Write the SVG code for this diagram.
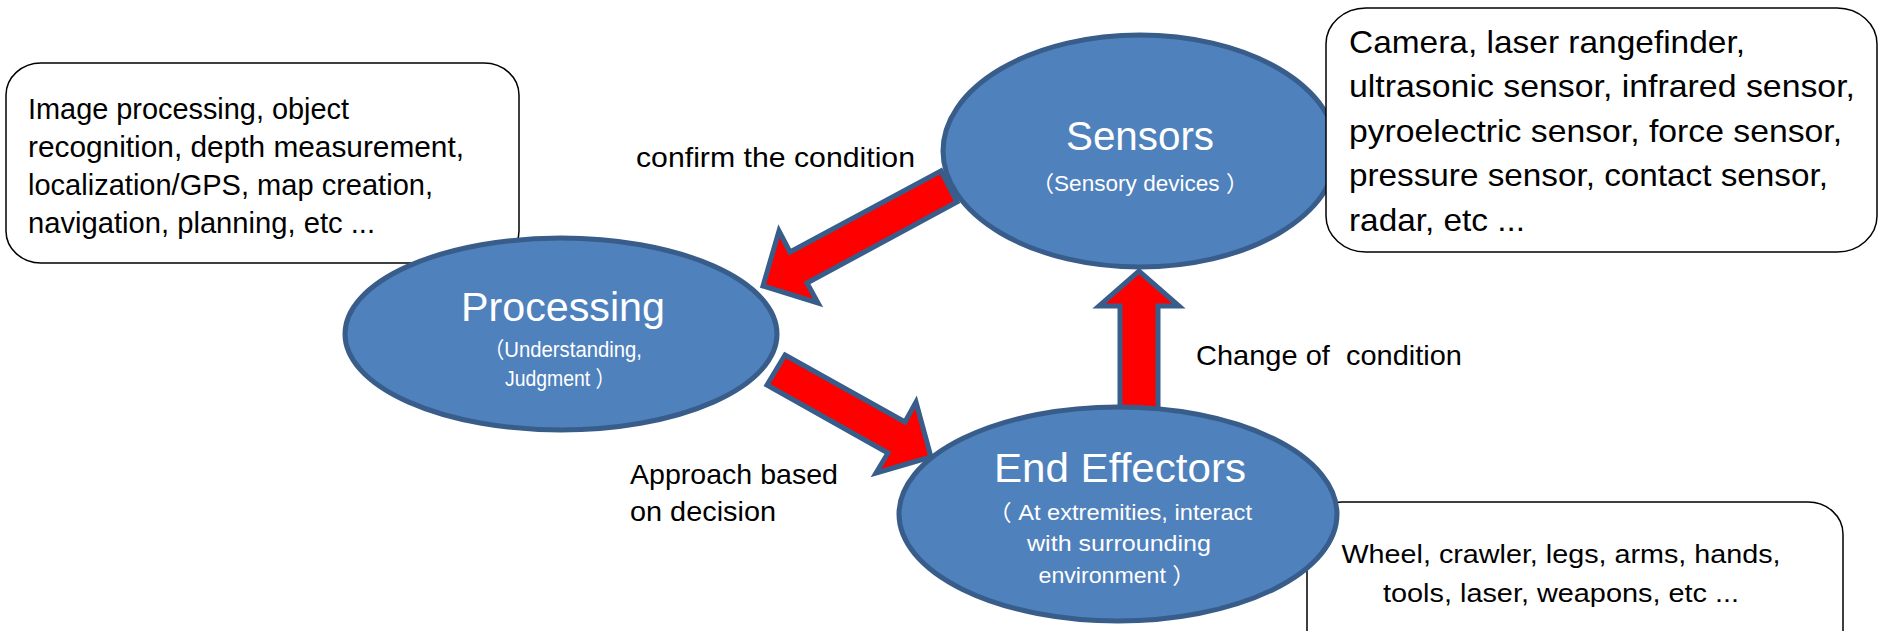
<svg xmlns="http://www.w3.org/2000/svg" width="1885" height="631" viewBox="0 0 1885 631">
<defs>
<style>
text{font-family:"Liberation Sans","Noto Sans CJK JP",sans-serif;}
.box{fill:#ffffff;stroke:#000000;stroke-width:1.5;}
.ell{fill:#4f81bd;stroke:#385d8a;stroke-width:5;}
.arr{fill:#ff0000;stroke:#385d8a;stroke-width:5;stroke-linejoin:miter;}
.bt{fill:#000000;font-size:29px;}
.rt{fill:#000000;font-size:32px;}
.lb{fill:#000000;font-size:28px;}
.title{fill:#ffffff;font-size:41px;text-anchor:middle;}
.sub{fill:#ffffff;font-size:22px;text-anchor:middle;}
.brt{fill:#000000;font-size:25px;text-anchor:middle;}
</style>
</defs>
<rect width="1885" height="631" fill="#ffffff"/>

<g id="connectors">
  <polygon class="arr" points="941,171 790,252 779,231 763,286 818,303 807,283 957,202"/>
  <polygon class="arr" points="785,355 905,422 916,402 931,457 876,473 888,453 767,385"/>
  <polygon class="arr" points="1120,412 1120,306 1099,306 1139,271 1179,306 1158,306 1158,412"/>
  <text class="lb" x="636" y="167" textLength="279" lengthAdjust="spacingAndGlyphs">confirm the condition</text>
  <text class="lb" x="1196" y="365" textLength="266" lengthAdjust="spacingAndGlyphs" xml:space="preserve">Change of  condition</text>
  <text class="lb" x="630" y="484" textLength="208" lengthAdjust="spacingAndGlyphs">Approach based</text>
  <text class="lb" x="630" y="521" textLength="146" lengthAdjust="spacingAndGlyphs">on decision</text>
</g>

<g id="processing-box">
  <rect class="box" x="6" y="63" width="513" height="200" rx="35" ry="32"/>
  <text class="bt" x="28" y="119" textLength="321" lengthAdjust="spacingAndGlyphs">Image processing, object</text>
  <text class="bt" x="28" y="157" textLength="436" lengthAdjust="spacingAndGlyphs">recognition, depth measurement,</text>
  <text class="bt" x="28" y="195" textLength="405" lengthAdjust="spacingAndGlyphs">localization/GPS, map creation,</text>
  <text class="bt" x="28" y="233" textLength="347" lengthAdjust="spacingAndGlyphs">navigation, planning, etc ...</text>
</g>

<g id="processing">
  <ellipse class="ell" cx="561" cy="334" rx="216" ry="96"/>
  <text class="title" x="563" y="321" textLength="204" lengthAdjust="spacingAndGlyphs">Processing</text>
  <text class="sub" x="563" y="357" textLength="158" lengthAdjust="spacingAndGlyphs">（Understanding,</text>
  <text class="sub" x="560" y="386" textLength="110" lengthAdjust="spacingAndGlyphs">Judgment ）</text>
</g>

<g id="effectors-box">
  <rect class="box" x="1307" y="502" width="536" height="190" rx="35" ry="32"/>
  <text class="brt" x="1561" y="563" textLength="439" lengthAdjust="spacingAndGlyphs">Wheel, crawler, legs, arms, hands,</text>
  <text class="brt" x="1561" y="602" textLength="356" lengthAdjust="spacingAndGlyphs">tools, laser, weapons, etc ...</text>
</g>

<g id="end-effectors">
  <ellipse class="ell" cx="1118" cy="514" rx="219" ry="107"/>
  <text class="title" x="1120" y="482" textLength="252" lengthAdjust="spacingAndGlyphs">End Effectors</text>
  <text class="sub" x="1120" y="520" textLength="264" lengthAdjust="spacingAndGlyphs">（ At extremities, interact</text>
  <text class="sub" x="1119" y="551" textLength="184" lengthAdjust="spacingAndGlyphs">with surrounding</text>
  <text class="sub" x="1117" y="583" textLength="157" lengthAdjust="spacingAndGlyphs">environment ）</text>
</g>

<g id="sensors">
  <ellipse class="ell" cx="1140" cy="151" rx="197" ry="116"/>
  <text class="title" x="1140" y="150" textLength="148" lengthAdjust="spacingAndGlyphs">Sensors</text>
  <text class="sub" x="1140" y="191" font-size="23" textLength="217" lengthAdjust="spacingAndGlyphs">（Sensory devices ）</text>
</g>

<g id="sensors-box">
  <rect class="box" x="1326" y="8" width="551" height="244" rx="40" ry="36"/>
  <text class="rt" x="1349" y="53" textLength="396" lengthAdjust="spacingAndGlyphs">Camera, laser rangefinder,</text>
  <text class="rt" x="1349" y="97" textLength="506" lengthAdjust="spacingAndGlyphs">ultrasonic sensor, infrared sensor,</text>
  <text class="rt" x="1349" y="142" textLength="493" lengthAdjust="spacingAndGlyphs">pyroelectric sensor, force sensor,</text>
  <text class="rt" x="1349" y="186" textLength="479" lengthAdjust="spacingAndGlyphs">pressure sensor, contact sensor,</text>
  <text class="rt" x="1349" y="231" textLength="176" lengthAdjust="spacingAndGlyphs">radar, etc ...</text>
</g>
</svg>
